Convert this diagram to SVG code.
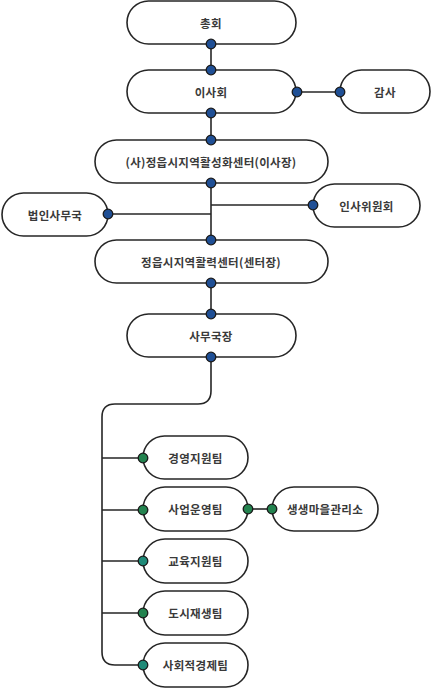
<svg xmlns="http://www.w3.org/2000/svg" width="433" height="688" viewBox="0 0 433 688">
<style>
.box{fill:#fff;stroke:#262626;stroke-width:1.6}
.t{font-family:"Noto Sans CJK KR","Noto Sans",sans-serif;font-weight:700;font-size:11.5px;fill:#3a3a3a;text-anchor:middle;dominant-baseline:central;letter-spacing:0.3px}
.ln{fill:none;stroke:#262626;stroke-width:1.6}
.db{fill:#1f4f95;stroke:#1a1a1a;stroke-width:1.3}
.dg{fill:#23834f;stroke:#1a1a1a;stroke-width:1.3}
.dt{fill:#1f8a78;stroke:#1a1a1a;stroke-width:1.3}
</style>
<rect width="433" height="688" fill="#fff"/>
<g id="connectors">
<path class="ln" d="M211 44V70"/>
<path class="ln" d="M297 92H340"/>
<path class="ln" d="M211 113V140"/>
<path class="ln" d="M211 183V240"/>
<path class="ln" d="M211 205H313"/>
<path class="ln" d="M108 214H211"/>
<path class="ln" d="M211 283V313"/>
<path class="ln" d="M211 357V391Q211 404 198 404H115Q102 404 102 417V652Q102 665 115 665H143"/>
<path class="ln" d="M102 458H143M102 510H143M102 561H143M102 613H143"/>
<path class="ln" d="M248 509H272"/>
</g>
<g id="n1"><rect class="box" x="127" y="1" width="169" height="43" rx="21.5"/><text class="t" x="211" y="22.5">총회</text></g>
<g id="n2"><rect class="box" x="127" y="70" width="169" height="43" rx="21.5"/><text class="t" x="211" y="91.5">이사회</text></g>
<g id="n3"><rect class="box" x="340" y="70" width="90" height="43" rx="21.5"/><text class="t" x="385" y="91.5">감사</text></g>
<g id="n4"><rect class="box" x="95" y="140" width="233" height="43" rx="21.5"/><text class="t" x="211" y="161.5">(사)정읍시지역활성화센터(이사장)</text></g>
<g id="n5"><rect class="box" x="2" y="193" width="106" height="43" rx="21.5"/><text class="t" x="55" y="214.5">법인사무국</text></g>
<g id="n6"><rect class="box" x="313" y="184" width="107" height="43" rx="21.5"/><text class="t" x="366.5" y="205.5">인사위원회</text></g>
<g id="n7"><rect class="box" x="95" y="240" width="233" height="43" rx="21.5"/><text class="t" x="211" y="261.5">정읍시지역활력센터(센터장)</text></g>
<g id="n8"><rect class="box" x="127" y="314" width="169" height="43" rx="21.5"/><text class="t" x="211" y="335.5">사무국장</text></g>
<g id="n9"><rect class="box" x="143" y="436" width="105" height="43" rx="21.5"/><text class="t" x="195.5" y="457.5">경영지원팀</text></g>
<g id="n10"><rect class="box" x="143" y="487" width="105" height="44" rx="22"/><text class="t" x="195.5" y="509">사업운영팀</text></g>
<g id="n11"><rect class="box" x="272" y="487" width="106" height="44" rx="22"/><text class="t" x="325" y="509">생생마을관리소</text></g>
<g id="n12"><rect class="box" x="143" y="539" width="105" height="44" rx="22"/><text class="t" x="195.5" y="561">교육지원팀</text></g>
<g id="n13"><rect class="box" x="143" y="591" width="105" height="44" rx="22"/><text class="t" x="195.5" y="613">도시재생팀</text></g>
<g id="n14"><rect class="box" x="143" y="643" width="105" height="44" rx="22"/><text class="t" x="195.5" y="665">사회적경제팀</text></g>
<g id="dots">
<circle class="db" cx="211" cy="44" r="4.8"/>
<circle class="db" cx="211" cy="70" r="4.8"/>
<circle class="db" cx="297" cy="92" r="4.8"/>
<circle class="db" cx="340" cy="92" r="4.8"/>
<circle class="db" cx="211" cy="113" r="4.8"/>
<circle class="db" cx="211" cy="140" r="4.8"/>
<circle class="db" cx="211" cy="183" r="4.8"/>
<circle class="db" cx="313" cy="205" r="4.8"/>
<circle class="db" cx="108" cy="214" r="4.8"/>
<circle class="db" cx="211" cy="240" r="4.8"/>
<circle class="db" cx="211" cy="283" r="4.8"/>
<circle class="db" cx="211" cy="314" r="4.8"/>
<circle class="db" cx="211" cy="357" r="4.8"/>
<circle class="dg" cx="143" cy="458" r="4.8"/>
<circle class="dg" cx="143" cy="510" r="4.8"/>
<circle class="dg" cx="248" cy="509" r="4.8"/>
<circle class="dg" cx="272" cy="509" r="4.8"/>
<circle class="dt" cx="143" cy="561" r="4.8"/>
<circle class="dg" cx="143" cy="613" r="4.8"/>
<circle class="dt" cx="143" cy="665" r="4.8"/>
</g>
</svg>
